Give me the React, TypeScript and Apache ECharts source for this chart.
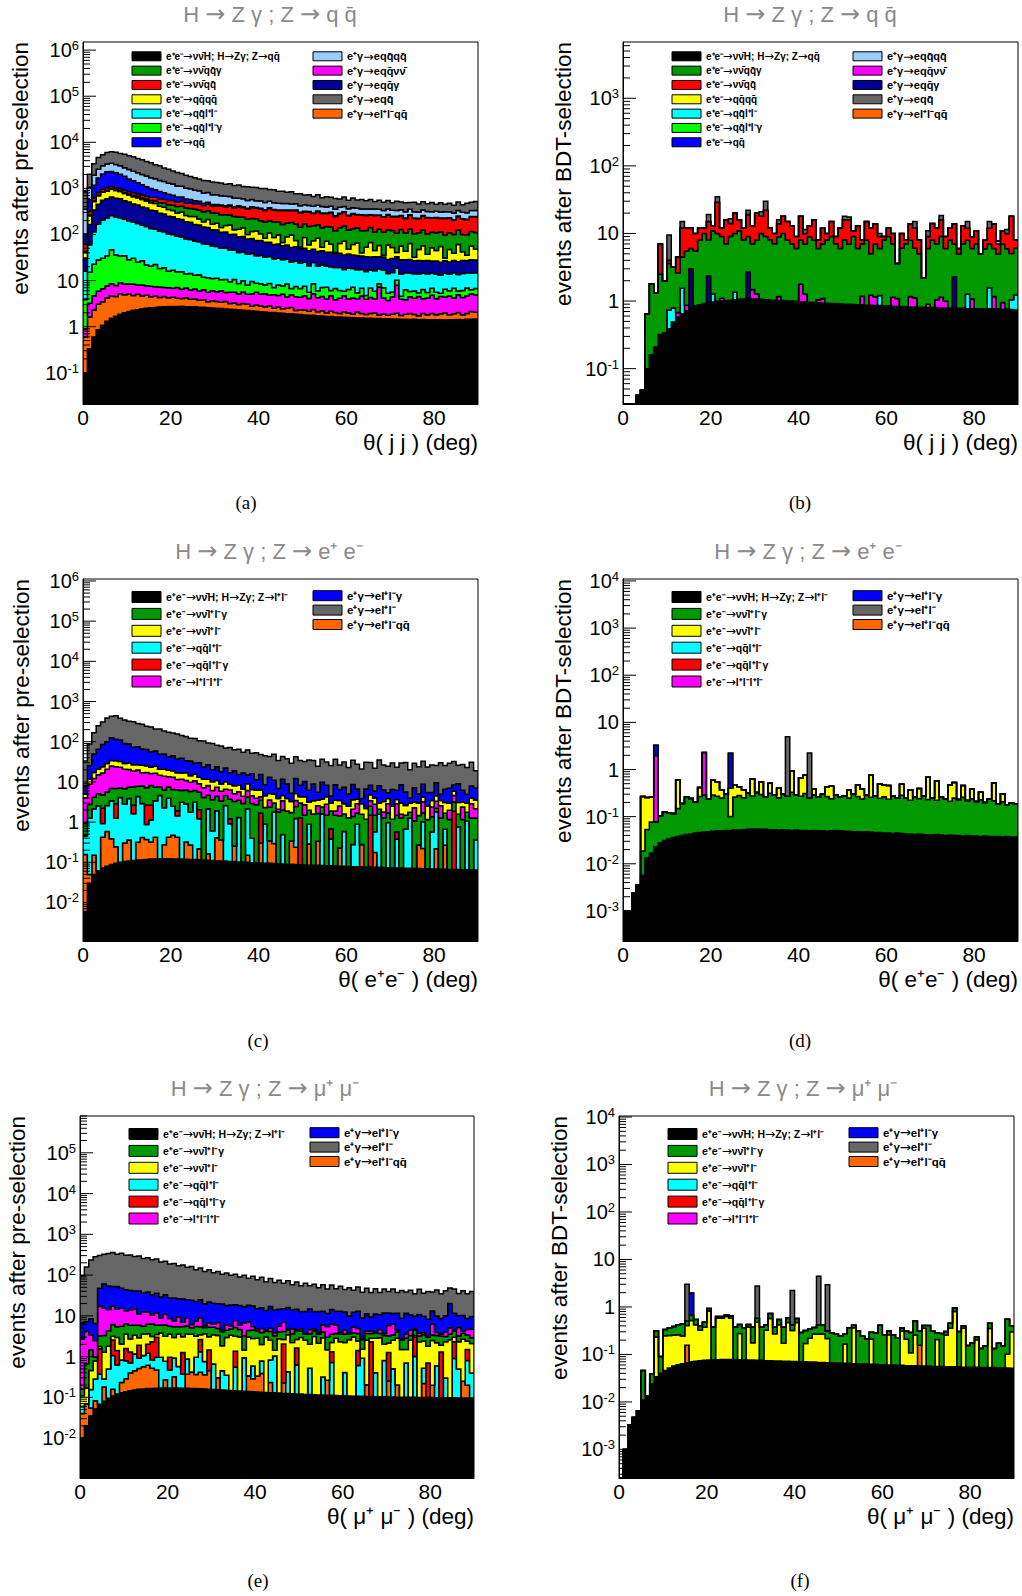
import React, { useEffect, useRef } from "react";
import * as echarts from "echarts";

const NBINS = 90;
const BIN_W = 1; // degrees per bin
const FONT = '"Liberation Sans", Arial, Helvetica, sans-serif';
const ARROW_FONT = '"DejaVu Sans", sans-serif';
const SERIF = '"Liberation Serif", "Times New Roman", serif';

const COLOR: Record<string, string> = {
  sig: "#000000", green: "#009900", red: "#ff0000", yellow: "#ffff00", cyan: "#00ffff",
  lgreen: "#00ff00", blue: "#0000ff", lblue: "#99ccff", magenta: "#ff00ff", navy: "#000099",
  gray: "#666666", orange: "#ff6600",
};

const NB = "\u03bd\u0304";
const QB = "q\u0304";
const LABELS_QQ: Record<string, string> = {
  sig: `e⁺e⁻→ν${NB}H; H→Zγ; Z→q${QB}`, green: `e⁺e⁻→ν${NB}q${QB}γ`, red: `e⁺e⁻→ν${NB}q${QB}`,
  yellow: `e⁺e⁻→q${QB}q${QB}`, cyan: `e⁺e⁻→q${QB}l⁺l⁻`, lgreen: `e⁺e⁻→q${QB}l⁺l⁻γ`, blue: `e⁺e⁻→q${QB}`,
  lblue: `e⁺γ→eq${QB}q${QB}`, magenta: `e⁺γ→eq${QB}ν${NB}`, navy: `e⁺γ→eq${QB}γ`, gray: `e⁺γ→eq${QB}`,
  orange: `e⁺γ→el⁺l⁻q${QB}`,
};
const LABELS_LL: Record<string, string> = {
  sig: `e⁺e⁻→ν${NB}H; H→Zγ; Z→l⁺l⁻`, green: `e⁺e⁻→ν${NB}l⁺l⁻γ`, yellow: `e⁺e⁻→ν${NB}l⁺l⁻`,
  cyan: `e⁺e⁻→q${QB}l⁺l⁻`, red: `e⁺e⁻→q${QB}l⁺l⁻γ`, magenta: `e⁺e⁻→l⁺l⁻l⁺l⁻`,
  blue: `e⁺γ→el⁺l⁻γ`, gray: `e⁺γ→el⁺l⁻`, orange: `e⁺γ→el⁺l⁻q${QB}`,
};
const LEG_QQ_1 = ["sig", "green", "red", "yellow", "cyan", "lgreen", "blue"];
const LEG_QQ_2 = ["lblue", "magenta", "navy", "gray", "orange"];
const LEG_LL_1 = ["sig", "green", "yellow", "cyan", "red", "magenta"];
const LEG_LL_2 = ["blue", "gray", "orange"];

const X_TICKS = [0, 20, 40, 60, 80];

function fromBins(entries: [number, number][]): number[] {
  const a = new Array(NBINS).fill(0);
  for (const [i, v] of entries) a[i] = v;
  return a;
}

// ---------------- Panel (a): H->Zγ, Z->qq, pre-selection ----------------
const A_sig = [0.1,0.33,0.6,0.86,1.08,1.31,1.52,1.69,1.87,2.0, 2.14,2.26,2.34,2.45,2.5,2.57,2.61,2.67,2.69,2.73, 2.75,2.74,2.77,2.72,2.71,2.69,2.64,2.63,2.57,2.55, 2.5,2.48,2.42,2.4,2.35,2.32,2.27,2.25,2.19,2.17, 2.12,2.09,2.04,2.02,1.97,1.95,1.91,1.9,1.85,1.84, 1.8,1.77,1.76,1.72,1.71,1.67,1.67,1.63,1.62,1.6, 1.59,1.57,1.57,1.54,1.53,1.52,1.5,1.5,1.48,1.48, 1.46,1.46,1.45,1.45,1.43,1.44,1.42,1.43,1.41,1.42, 1.41,1.41,1.4,1.42,1.41,1.43,1.42,1.44,1.44,1.46];
const A_orange = [0.5,1.3,1.7,2.2,2.4,2.9,3.1,2.8,3.3,2.9, 3.0,2.5,2.7,2.2,2.3,1.9,2.0,1.6,1.8,1.5, 1.6,1.4,1.3,1.5,1.2,1.3,1.1,1.2,0.9,1.1, 1.0,0.9,1.1,0.8,0.9,0.7,0.9,0.8,0.6,0.8, 0.7,0.6,0.8,0.5,0.7,0.5,0.6,0.7,0.4,0.5, 0.5,0.4,0.6,0.4,0.5,0.3,0.5,0.4,0.3,0.5, 0.4,0.3,0.5,0.4,0.3,0.4,0.5,0.3,0.4,0.3, 0.4,0.5,0.3,0.4,0.5,0.4,0.3,0.5,0.4,0.5, 0.4,0.5,0.6,0.4,0.5,0.6,0.4,0.5,0.7,0.6];
const A_magenta = [0.3,1.6,2.4,2.8,3.2,3.4,3.9,3.3,3.8,3.5, 3.3,3.6,3.0,3.4,2.9,3.1,2.7,3.0,2.6,2.8, 2.5,2.9,2.4,2.7,2.3,2.6,2.2,2.5,2.1,2.4, 2.2,2.6,2.0,2.4,2.3,2.1,2.5,2.0,2.3,2.6, 2.2,2.5,2.0,2.4,2.1,2.6,1.9,2.3,2.2,2.0, 2.4,1.9,2.8,2.1,2.3,2.0,2.5,1.8,2.2,2.6, 2.0,2.3,1.9,2.7,2.1,2.4,2.0,5.5,2.3,1.9, 2.6,6.0,2.2,2.0,2.5,2.3,2.8,2.1,2.4,2.9, 2.2,2.6,2.4,2.8,2.3,2.9,2.5,2.7,3.0,2.8];
const A_lgreen = [3,12,18,22,24,27,38,28,25,26, 20,22,17,19,14,13,15,11,12,9, 10,8.5,9,7,8,6.5,7.5,5.5,6,5, 5.5,4.5,5,3.8,5,3.5,4.2,3.0,4.5,3.2, 3.5,2.8,3.8,2.2,3.2,2.6,4.0,1.8,3.0,2.4, 2.8,1.5,3.4,1.8,2.6,3.2,1.4,2.9,2.0,1.2, 2.4,3.0,1.5,2.2,0.8,2.6,1.9,1.2,2.8,1.6, 1.2,2.2,0.6,2.5,1.4,1.8,0.9,2.4,1.3,2.0, 1.6,0.8,2.1,1.4,2.6,1.0,1.8,2.3,1.2,1.9];
const A_cyan = [12,45,92,138,176,193,212,204,197,180, 171,156,148,134,127,115,110,99,95,87, 83,76,73,66,64,58,56,51,50,45, 44,40,40,36,36,32,32,29,29,26, 26.5,24.5,24.5,22.5,22.5,20.5,20.5,18.5,19,17, 17.5,15.5,16,14.5,15,13.5,14,12.5,13,11.5, 12.2,11.2,11.6,10.6,11,10,10.4,9.5,9.9,9, 9.4,8.7,9.1,8.4,8.8,8.1,8.5,7.9,8.3,7.8, 8.1,7.7,8.0,7.7,8.0,7.7,8.2,7.9,8.3,8.1];
const A_navy = [15,105,225,285,345,365,395,375,365,325, 305,275,265,235,225,200,195,170,165,145, 143,127,123,109,107,93,92,82,80,70, 70,62,62,55,55,49,48,43,43,39, 39,35,35,31,32,29,30,27,28,25, 25.5,23.5,23.5,22,22.5,20.5,21,19.5,20,18.5, 19,17.5,18,16.5,17,15.5,16.5,15,15.5,14.5, 15,14,14.5,13.5,14,13,13.5,12.5,13.5,12, 13,12,12.5,11.5,12.5,12,13,12.5,13.5,13];
const A_yellow = [10,90,180,240,270,290,300,280,260,240, 215,200,190,175,160,150,140,125,110,100, 90,75,95,70,60,80,55,45,70,40, 50,30,45,60,25,40,50,20,35,45, 30,15,40,25,35,10,30,45,20,5, 35,15,25,40,8,30,20,2,25,35, 10,25,30,6,20,35,12,25,3,30, 22,8,28,15,35,5,20,30,10,25, 18,30,4,22,12,35,15,8,28,20];
const A_green = [2,8,12,15,18,20,22,25,28,32, 36,40,45,50,55,60,68,75,85,95, 100,110,105,115,120,110,125,120,115,125, 115,125,110,105,120,110,100,115,105,100, 95,105,90,100,92,98,88,85,95,90, 85,90,82,80,88,78,85,80,76,82, 78,72,75,80,70,74,68,72,76,66, 70,66,72,64,68,70,62,67,65,60, 64,58,66,62,60,65,58,63,60,62];
const A_red = [20,60,90,110,120,130,120,115,110,105, 100,100,95,95,100,100,105,100,110,105, 110,100,115,105,120,110,125,115,130,120, 125,140,130,150,135,160,145,140,165,150, 160,145,170,150,140,165,155,145,160,150, 140,155,130,150,145,135,150,125,140,150, 130,145,125,140,135,120,145,130,125,140, 120,135,125,115,130,120,110,130,125,115, 120,110,125,115,105,120,115,110,125,130];
const A_blue = [40,250,550,860,1080,1260,1240,1160,1040,910, 750,660,550,490,400,355,295,265,220,200, 165,150,120,108,88,77,60,54,43,38, 31,29,24,23,19,18.5,16,16.5,14.5,14.5, 12.5,13.5,11.5,12.5,10.5,11.5,9.5,10.5,9.5,9.2, 8.6,9.3,8.1,8.8,7.7,8.4,7.6,7.8,7.2,7.1, 6.7,7.3,6.6,6.8,6.2,6.7,5.8,6.3,5.7,6.2, 5.8,6.1,5.3,5.7,5.2,5.8,4.8,5.2,4.9,5.2, 4.8,5.1,4.9,5.2,4.8,5.1,4.9,5.2,5.0,5.1];
const A_lblue = [250,490,760,940,1060,1090,1160,1090,1060,990, 960,890,860,790,770,710,690,630,610,550, 530,480,470,420,410,365,360,320,320,280, 280,255,250,225,220,195,195,175,175,157, 158,147,148,137,138,129,131,122,125,117, 121,112,116,107,111,103,107,99,103,97, 100,94,97,92,95,90,93,88,91,86, 89,84,87,83,86,82,85,81,84,80, 84,79,83,80,84,80,85,82,87,86];
const A_gray = [500,960,1480,2050,2250,2650,2750,2800,2650,2700, 2550,2500,2250,2200,1950,1900,1650,1600,1350,1320, 1150,1090,980,920,820,790,720,690,640,650, 610,625,565,595,530,570,505,535,480,505, 470,505,415,445,385,400,350,385,305,345, 275,305,255,300,220,265,230,250,200,245, 190,240,190,215,180,215,160,200,165,190, 150,195,160,175,140,190,150,170,150,180, 135,180,145,165,140,175,135,180,165,190];

// ---------------- Panel (b): H->Zγ, Z->qq, BDT selection ----------------
const B_sig = [0,0,0,0.04,0.048,0.1,0.16,0.21,0.32,0.34, 0.39,0.49,0.58,0.65,0.72,0.8,0.85,0.88,0.92,0.95, 0.97,0.99,1.0,1.02,1.03,1.05,1.06,1.08,1.1,1.08, 1.07,1.06,1.05,1.04,1.03,1.02,1.02,1.01,1.0,0.99, 0.98,0.97,0.96,0.96,0.95,0.94,0.93,0.92,0.92,0.91, 0.9,0.9,0.89,0.88,0.88,0.87,0.87,0.86,0.86,0.85, 0.85,0.84,0.84,0.83,0.83,0.82,0.82,0.81,0.81,0.8, 0.8,0.8,0.79,0.79,0.79,0.78,0.78,0.78,0.77,0.77, 0.77,0.77,0.76,0.77,0.77,0.76,0.75,0.76,0.75,0.74];
const B_orange = fromBins([[69, 0.1]]);
const B_magenta = fromBins([[12,0.1],[14,0.15],[22,0.1],[29,0.4],[30,0.2],[35,0.15],[40,0.8],[41,0.3],[44,0.1],[45,0.15],[54,0.3],[56,0.35],[57,0.3],[61,0.3],[62,0.25],[65,0.35],[66,0.3],[71,0.25],[72,0.35],[73,0.2],[79,0.3],[84,0.4],[86,0.2]]);
const B_cyan = fromBins([[10,0.35],[11,0.3],[13,0.9],[20,0.3],[25,0.3],[58,0.35],[78,0.5],[83,0.8],[88,0.3],[89,0.5]]);
const B_navy = fromBins([[15,2.2],[19,1.4],[28,1.6],[75,1.5]]);
const B_green = [0,0,0,0,0,0.55,1.64,1.09,2.18,1.66, 2.86,2.41,1.92,2.95,4.63,3.0,4.65,7.1,9.1,5.65, 9.7,9.0,7.9,6.0,8.0,8.65,9.9,6.9,6.3,5.5, 6.7,8.9,7.95,7.0,6.0,7.8,9.0,7.0,6.0,5.0, 6.2,5.7,8.0,7.0,4.95,5.9,7.1,8.1,6.1,5.1, 7.1,6.1,8.1,5.1,5.8,7.1,3.8,5.8,4.8,7.15, 8.15,5.85,2.5,5.2,6.2,6.8,4.9,4.2,1.4,5.1, 7.2,5.95,7.85,5.0,7.2,4.7,4.2,6.2,6.7,4.9, 6.2,4.2,5.2,5.4,4.8,4.2,6.0,5.2,4.0,4.8];
const B_red = [0,0,0,0,0,0,0,0,4.5,0, 0.4,0,1.9,7.5,6.5,6,4.5,4,2,7, 2,19,3,9,5,10,5,4,10,6, 12,8,13,4,3,5,8,7,6,3, 10,3,4,8,2,5,2,6,2,6, 8,9,2,7,1,7,7,7,3,1, 3,3,0,4,1,6,6,3,0,3, 6,5,7,3,4,7,1,6,4,3, 4,0,2,5,8,2,4,4,13,2];
const B_lblue = fromBins([[85, 0.8]]);
const B_gray = fromBins([[10,5.5],[13,3],[19,4],[21,6],[24,2.5],[28,3],[31,3],[32,8],[35,2],[41,1.5],[50,2],[51,1.5],[58,1],[66,3],[69,2],[72,2.5],[78,3],[83,3],[87,1.5]]);

// ---------------- Panel (c): H->Zγ, Z->ee, pre-selection ----------------
const C_sig = [0.006,0.03,0.05,0.062,0.072,0.08,0.088,0.095,0.1,0.104, 0.108,0.111,0.114,0.116,0.118,0.12,0.121,0.122,0.122,0.122, 0.121,0.121,0.12,0.119,0.118,0.117,0.116,0.114,0.113,0.111, 0.11,0.108,0.107,0.105,0.104,0.102,0.101,0.1,0.098,0.097, 0.096,0.095,0.094,0.093,0.092,0.091,0.09,0.089,0.088,0.087, 0.086,0.085,0.085,0.084,0.083,0.082,0.082,0.081,0.08,0.08, 0.079,0.078,0.078,0.077,0.076,0.076,0.075,0.075,0.074,0.073, 0.073,0.072,0.072,0.071,0.071,0.07,0.07,0.069,0.069,0.068, 0.068,0.067,0.067,0.066,0.066,0.066,0.065,0.065,0.064,0.064];
const C_orange = [0.15,0.02,0.1,0,0.35,0.5,0.3,0.15,0,0.2, 0.25,0,0.2,0.3,0.25,0.2,0.3,0,0.15,0.3, 0.35,0.3,0,0.2,0.15,0,0.1,0,0.05,0, 0.3,0.25,0,0,0.15,0,0,0.05,0,0, 0.2,0,0.25,0.2,0,0,0,0.25,0.15,0, 0,0.2,0,0.25,0,0,0,0,0.15,0, 0,0,0,0.2,0,0,0.1,0,0,0, 0,0,0,0,0,0,0.2,0.15,0,0, 0.15,0,0.2,0,0,0,0,0,0,0];
const C_cyan = [0.3,1.2,2.0,2.5,0.5,2.0,3.0,1.0,4.0,2.5, 3.5,1.5,4.0,2.5,0.5,0.8,3.0,4.5,2.0,3.5, 2.0,1.0,3.0,2.5,1.5,3.0,1.0,0,2.0,0.5, 1.5,0,2.5,0.8,0,1.2,0,2.0,0.3,0, 0,0.8,0,1.5,0,0.4,0,0,1.0,0, 0,0.6,0,0,1.5,0,0.3,0,0,0.5, 0,0.2,0.8,0,0,0,0.4,1.5,0,0.9, 0,0.3,0,0.6,1.2,0,0,0.8,0,0.5, 1.6,0,0.4,0,0,0.7,0,1.0,0,0.3];
const C_red = fromBins([[4,1.3],[7,1.6],[11,1.0],[14,1.8],[15,1.5],[21,0.5],[26,0.8],[33,0.3],[40,1.4],[49,1.2],[56,0.3],[65,1.4],[71,0.2],[84,1.8]]);
const C_green = [0.5,1.5,2,2.5,2.5,3,3.5,4,3,4, 3.5,5,3.5,5,4.5,5.5,4,3,4,3.5, 4,4.5,3,3.5,4,3,3.5,4,2.5,3, 2.5,3,2,2.5,3,2.2,2.8,2,2.5,2.6, 1.8,1.4,2.0,1.2,1.7,1.5,1.8,1.4,1.2,1.7, 1.4,1.1,1.5,1.3,0.8,1.4,1.2,1.4,1.2,1.0, 1.2,1.1,0.8,1.3,1.1,1.0,0.9,0.5,1.2,0.7, 1.1,0.9,1.2,0.8,0.5,1.0,1.2,0.7,1.1,0.8, 0.4,1.2,1.0,1.1,1.3,0.8,1.1,0.7,1.2,0.9];
const C_magenta = [3,6,8,10,12,15,18,17,16,14, 13,11,12,9,10,8,9,7,7.5,6, 6.5,5,5.5,4.5,4,4.5,3.5,3,3.5,2.5, 3,2.5,2,2.6,1.8,2.2,1.5,2.0,1.6,1.2, 0.8,0,1.2,0,0.3,1.4,0,0,1.0,0, 1.2,0,0,0.9,0,1.3,0,0.4,1.1,0, 0,0.7,1.2,0,0,0.9,1.3,0,0.5,1.2, 0,1.4,0.3,0,0,1.2,0,1.5,0,1.0, 1.1,1.3,0,0.8,1.4,0,1.2,0,1.6,0.9];
const C_yellow = [1,3,5,6,7,8,9,10,9,8, 9,8,7,9,8,7,8,6,7,6, 6,5.5,5,6,4.5,5,4,4.5,3.5,4, 3.5,3,3.5,2.5,3,2.5,2.2,2.8,2.0,2.4, 2.0,2.2,1.6,2.0,1.8,1.2,2.0,1.5,1.7,1.3, 1.6,1.2,1.8,1.0,1.4,1.5,1.1,1.6,0.9,1.3, 1.2,1.5,0.8,1.3,1.0,1.4,1.2,0.9,1.5,1.0, 1.3,0.8,1.4,1.1,1.2,0.9,1.5,1.0,1.3,1.1, 1.2,0.9,1.4,1.0,1.3,1.5,0.8,1.2,1.1,1.4];
const C_blue = [3,14,32,44,62,72,92,82,78,62, 58,46,48,40,39,33,34,28,29,23, 26,20,22,17,19,14,17,12,15,10, 13,9,12,8,11,7,10,6,9.5,5, 9,4,8,6,3,7,5,2,7,4, 6,3,5.5,2,6,4,1.5,5,3,4.5, 2.5,5,3,1,4.5,3.5,2,5,3,1.5, 4,2.5,5.5,3,1,4,2,4.5,3,2, 5,1.5,3.5,4,2.5,6,3,2,4,3.5];
const C_gray = [25,62,118,185,225,290,305,330,275,255, 235,240,210,205,180,175,150,160,135,130, 120,118,105,102,88,90,75,80,66,70, 58,60,48,55,44,50,38,47,36,42, 33,36,30,38,27,31,29,24,30,26, 22,29,25,19,27,23,21,28,20,24, 18,26,21,17,24,22,16,27,20,19, 23,17,21,25,16,22,19,24,18,21, 16,25,19,22,24,17,21,18,23,12];

// ---------------- Panel (d): H->Zγ, Z->ee, BDT selection ----------------
const D_sig = [0.001,0.001,0.0024,0.0035,0.0057,0.0134,0.017,0.023,0.028,0.031, 0.034,0.036,0.038,0.04,0.042,0.043,0.045,0.046,0.047,0.048, 0.049,0.05,0.05,0.051,0.051,0.052,0.052,0.053,0.054,0.055, 0.055,0.054,0.054,0.053,0.053,0.052,0.053,0.052,0.051,0.052, 0.051,0.051,0.05,0.051,0.05,0.05,0.049,0.05,0.051,0.05, 0.049,0.049,0.048,0.048,0.047,0.048,0.047,0.046,0.046,0.045, 0.045,0.044,0.045,0.044,0.043,0.043,0.042,0.043,0.042,0.041, 0.041,0.042,0.041,0.04,0.041,0.04,0.04,0.039,0.04,0.039, 0.039,0.038,0.039,0.038,0.038,0.038,0.037,0.038,0.037,0.037];
const D_green = [0,0,0,0,0.013,0.04,0.06,0.055,0.075,0.095, 0.085,0.08,0.11,0.15,0.22,0.2,0.16,0.22,0.24,0.19, 0.24,0.22,0.2,0.25,0.05,0.21,0.23,0.2,0.26,0.22, 0.27,0.24,0.21,0.26,0.23,0.2,0.25,0.22,0.28,0.24, 0.22,0.26,0.2,0.24,0.21,0.25,0.22,0.19,0.24,0.21, 0.23,0.2,0.25,0.22,0.19,0.24,0.21,0.23,0.2,0.22, 0.19,0.23,0.2,0.24,0.21,0.18,0.22,0.2,0.23,0.19, 0.21,0.18,0.22,0.2,0.17,0.21,0.19,0.22,0.18,0.2, 0.17,0.19,0.16,0.2,0.18,0.15,0.17,0.14,0.16,0.15];
const D_yellow = fromBins([[4,0.25],[5,0.2],[6,0.18],[12,0.45],[17,0.15],[20,0.3],[21,0.28],[22,0.12],[24,0.3],[25,0.2],[26,0.15],[27,0.12],[29,0.35],[31,0.25],[33,0.2],[35,0.15],[38,0.6],[40,0.4],[41,0.45],[43,0.1],[46,0.15],[47,0.2],[51,0.12],[53,0.2],[54,0.15],[56,0.5],[58,0.25],[59,0.2],[60,0.22],[63,0.2],[65,0.15],[67,0.15],[69,0.45],[71,0.35],[74,0.25],[75,0.28],[77,0.2],[79,0.15],[81,0.1],[84,0.3],[86,0.1]]);
const D_magenta = fromBins([[7,1.9],[18,2.0]]);
const D_blue = fromBins([[7,1.3],[24,1.8]]);
const D_gray = fromBins([[37,4.7],[42,2.0]]);

// ---------------- Panel (e): H->Zγ, Z->μμ, pre-selection ----------------
const E_sig = [0.01,0.02,0.035,0.052,0.068,0.08,0.095,0.108,0.12,0.13, 0.138,0.145,0.152,0.157,0.161,0.164,0.166,0.168,0.169,0.17, 0.17,0.17,0.169,0.168,0.167,0.166,0.164,0.162,0.16,0.158, 0.156,0.154,0.152,0.15,0.148,0.146,0.144,0.142,0.14,0.138, 0.136,0.134,0.132,0.13,0.129,0.127,0.125,0.124,0.122,0.121, 0.12,0.118,0.117,0.116,0.115,0.114,0.113,0.112,0.111,0.11, 0.109,0.108,0.107,0.107,0.106,0.105,0.105,0.104,0.103,0.103, 0.102,0.102,0.101,0.101,0.1,0.1,0.1,0.099,0.099,0.099, 0.099,0.098,0.098,0.098,0.098,0.098,0.097,0.097,0.097,0.097];
const E_orange = [0.03,0.05,0.02,0.03,0,0.1,0,0.05,0,0.1, 0.15,0.25,0.3,0.35,0.4,0.45,0.35,0.3,0,0.1, 0,0.15,0,0,0.2,0.25,0.2,0.25,0.2,0.3, 0,0.15,0,0,0,0,0,0,0.2,0.15, 0.2,0.25,0,0.1,0,0,0.1,0,0,0, 0,0,0,0,0,0,0.15,0,0,0, 0,0,0,0,0,0.1,0,0,0,0, 0.15,0,0.1,0,0,0,0,0,0.12,0, 0.1,0,0,0,0,0,0,0.15,0.1,0];
const E_cyan = [0.02,0,0.1,0.2,0.3,0.1,0.4,0.9,0.5,0.6, 0.5,0.3,0.7,0.4,0.5,0.6,0.3,0.5,0.8,0.5, 0.3,0.6,0.4,0.2,0.5,0,0.6,0.9,0.4,0, 0.5,0,0.3,0.2,0,0.4,0,0.8,0,0.3, 0,0.4,0,0.6,0.9,0,0,0.3,0,0.5, 0,0,0.4,0,0,0.2,0,0.6,0,0, 0.3,0,0,0.5,0.8,0,0,0.3,0,0.7, 0,0.4,0,0,0.6,0,0.9,0,0.3,0, 0,0.5,0,0.2,0,0.8,0.4,0,0.6,0.3];
const E_red = [0,0,0,0,1.2,0,0,1.5,0.8,0, 0.8,0.6,0,1.0,0,0.8,1.5,2.0,0,0, 0.5,0,0,0.9,0,0,0,1.3,0,1.0, 0,0,0,0,0,0.8,0,0,0,0, 0,0,0,0,0,0,1.8,0,0,1.0, 0,0,0,0,0,0,0,0.6,0,0, 0,0,0,0.8,0,0,2.2,0,0,0, 1.0,0,0,0,0,0,2.0,0,0,0.6, 0,0,1.2,0,0,1.4,0,0,0.7,0];
const E_yellow = [0.05,0.1,0.3,0.5,0.2,1.0,1.3,0.6,1.5,1.2, 2.0,1.4,2.2,1.0,2.5,1.6,0.8,0.5,2.8,2.4, 2.6,2.0,3.0,1.8,2.7,3.1,2.2,0.8,2.9,1.6, 2.8,3.0,1.4,2.6,3.2,1.8,2.9,0.5,2.7,2.2, 2.5,1.2,2.9,1.7,0.4,2.6,0.6,3.0,2.1,1.0, 2.8,2.4,1.5,3.0,2.0,2.6,1.2,0.9,2.7,2.2, 1.8,2.5,2.9,1.0,0.6,2.3,0.5,2.4,2.8,1.2, 0.9,2.0,2.6,1.4,0.8,2.4,0.3,2.2,1.9,1.1, 2.3,1.6,0.6,2.0,2.5,0.7,1.8,2.4,0.9,1.7];
const E_green = [0.05,0.5,1.0,0.2,1.5,2.0,2.5,3.0,2.5,3.5, 2.8,3.2,2.5,3.0,2.0,2.6,3.2,2.4,2.2,2.8, 2.0,2.5,1.8,2.4,2.1,1.6,2.3,2.0,1.5,2.2, 1.8,1.6,2.2,1.5,1.4,2.0,1.6,1.8,1.3,1.7, 1.5,1.9,1.2,1.6,1.8,1.3,1.5,1.1,1.4,1.7, 1.3,1.0,1.6,1.2,1.4,1.1,1.5,1.3,0.9,1.2, 1.4,1.0,0.8,1.3,1.1,1.2,0.9,1.0,0.8,1.3, 1.1,0.9,1.2,1.0,1.3,0.8,1.1,0.9,1.0,1.2, 0.9,1.1,1.3,0.8,1.0,1.2,0.9,1.1,1.0,0.8];
const E_magenta = [2.5,3.5,2.0,1.5,14,12,10,11,9,10, 7,8,9,5,7,6,4,6,3,5, 3,2,4,1.5,3,1,2,3.5,0.5,1.5, 1,2,0.5,1.5,0.8,2.5,1.2,3.5,2.8,1.0, 0.5,1.0,0.3,0.8,0.6,1.5,2.8,0.4,1.2,0.2, 0.6,0.3,1.0,0.5,0.2,2.0,2.5,2.8,2.2,0.4, 0.8,0.3,1.5,1.2,0.2,0.5,0.6,0.3,0.9,0.4, 2.5,3.0,0.5,0.2,0.8,1.2,0.3,0.6,0.4,0.3, 2.8,0.6,0.4,0.9,1.5,0.3,2.0,0.5,1.2,1.8];
const E_blue = [4,3,5,4,30,45,40,35,38,32, 30,28,26,30,24,26,22,24,20,22, 19,20,17,19,16,18,15,16,14,15, 14,13,15,12,13,11,12,10,11,12, 10,11,9,12,10,9,8,11,9,10, 8,9,10,8,9,7,6,8,7,9, 8,6,7,8,6,7,5,7,6,8, 6,5,7,6,8,6,5,7,6,5, 7,6,5,6,15,7,5,6,4,5];
const E_gray = [90,150,225,275,255,265,285,305,270,295, 265,270,245,255,220,228,205,212,180,185, 160,165,142,150,130,138,112,125,103,114, 94,102,85,95,80,86,72,82,66,76, 62,72,55,66,52,60,48,57,44,53, 42,50,40,47,36,45,34,43,33,40, 32,39,30,38,29,36,28,35,27,34, 28,34,26,33,27,32,25,34,26,31, 25,33,26,31,28,34,25,31,26,30];

// ---------------- Panel (f): H->Zγ, Z->μμ, BDT selection ----------------
const F_sig = [0,0.001,0.0033,0.0047,0.0065,0.011,0.0134,0.024,0.034,0.04, 0.046,0.052,0.057,0.061,0.064,0.067,0.07,0.072,0.074,0.075, 0.076,0.077,0.077,0.078,0.078,0.078,0.077,0.077,0.077,0.076, 0.076,0.075,0.075,0.074,0.074,0.073,0.073,0.072,0.072,0.071, 0.071,0.07,0.07,0.069,0.069,0.068,0.068,0.067,0.067,0.066, 0.066,0.065,0.065,0.064,0.064,0.063,0.063,0.062,0.062,0.061, 0.061,0.06,0.06,0.059,0.059,0.058,0.058,0.058,0.057,0.057, 0.057,0.056,0.056,0.056,0.055,0.055,0.055,0.055,0.054,0.054, 0.054,0.054,0.053,0.053,0.053,0.053,0.052,0.052,0.052,0.051];
const F_orange = fromBins([[15,0.09],[68,0.1]]);
const F_yellow = [0,0,0,0,0,0,0,0,0.2,0, 0.2,0.2,0.2,0.2,0.18,0.25,0.45,0.35,0.25,0.3, 0.75,0,0.5,0.5,0.55,0.5,0,0.2,0,0.3, 0.1,0.4,0,0.25,0.5,0.2,0.35,0.1,0.4,0.25, 0.4,0,0.1,0.15,0.2,0.2,0.2,0.15,0,0, 0,0.1,0,0.3,0,0,0,0.15,0,0, 0,0.2,0,0,0.25,0.15,0.05,0.2,0,0.3, 0,0,0.15,0,0.2,0.3,0.75,0,0.3,0, 0,0.15,0,0,0.3,0,0,0,0.05,0.25];
const F_green = [0,0,0,0,0,0.035,0,0.015,0.08,0.05, 0.09,0.11,0.13,0.16,0.2,0.1,0.15,0.12,0.08,0.1, 0.1,0.3,0.05,0.05,0.05,0.07,0.3,0.15,0.28,0.05, 0.2,0.1,0.3,0.1,0.15,0.1,0.12,0.2,0.12,0.1, 0.1,0.22,0.15,0.12,0.1,0.15,0.15,0.1,0.22,0.2, 0.18,0.1,0.3,0.05,0.25,0.18,0.15,0.08,0.22,0.35, 0.2,0.05,0.2,0.16,0.05,0.1,0.18,0.25,0.15,0.05, 0.35,0.25,0.08,0.22,0.05,0.1,0.15,0.25,0.05,0.1, 0.12,0.03,0.08,0.1,0.1,0.08,0.12,0.1,0.45,0.1];
const F_blue = fromBins([[16, 1.3]]);
const F_gray = fromBins([[15,2.5],[31,2.2],[39,1.8],[45,4.0],[47,2.6]]);

type Layer = { key: string; values: number[] };
type Panel = {
  left: number; top: number; width: number; height: number; ymin: number; ymax: number;
  title: string; ytitle: string; xtitle: string; caption: string; capX: number; capY: number;
  titleX: number; ytitleX: number; kind: "qq" | "ll"; layers: Layer[];
};

const TITLE_QQ = `H → Z γ ; Z → q ${QB}`;
const TITLE_EE = "H → Z γ ; Z → e⁺ e⁻";
const TITLE_MM = "H → Z γ ; Z → μ⁺ μ⁻";

const PANELS: Panel[] = [
  { left: 83, top: 42, width: 395, height: 362, ymin: 0.021, ymax: 1.5e6, title: TITLE_QQ, ytitle: "events after pre-selection", xtitle: "θ( j j ) (deg)", caption: "(a)", capX: 246, capY: 502, titleX: 270, ytitleX: 20, kind: "qq",
    layers: [{ key: "sig", values: A_sig }, { key: "orange", values: A_orange }, { key: "magenta", values: A_magenta }, { key: "lgreen", values: A_lgreen }, { key: "cyan", values: A_cyan }, { key: "navy", values: A_navy }, { key: "yellow", values: A_yellow }, { key: "green", values: A_green }, { key: "red", values: A_red }, { key: "blue", values: A_blue }, { key: "lblue", values: A_lblue }, { key: "gray", values: A_gray }] },
  { left: 623, top: 42, width: 395, height: 362, ymin: 0.03, ymax: 6.8e3, title: TITLE_QQ, ytitle: "events after BDT-selection", xtitle: "θ( j j ) (deg)", caption: "(b)", capX: 800, capY: 502, titleX: 810, ytitleX: 563, kind: "qq",
    layers: [{ key: "sig", values: B_sig }, { key: "orange", values: B_orange }, { key: "magenta", values: B_magenta }, { key: "cyan", values: B_cyan }, { key: "navy", values: B_navy }, { key: "green", values: B_green }, { key: "red", values: B_red }, { key: "lblue", values: B_lblue }, { key: "gray", values: B_gray }] },
  { left: 83, top: 579, width: 395, height: 362, ymin: 1.1e-3, ymax: 1.12e6, title: TITLE_EE, ytitle: "events after pre-selection", xtitle: "θ( e⁺e⁻ ) (deg)", caption: "(c)", capX: 258, capY: 1040, titleX: 269, ytitleX: 21, kind: "ll",
    layers: [{ key: "sig", values: C_sig }, { key: "orange", values: C_orange }, { key: "cyan", values: C_cyan }, { key: "red", values: C_red }, { key: "green", values: C_green }, { key: "magenta", values: C_magenta }, { key: "yellow", values: C_yellow }, { key: "blue", values: C_blue }, { key: "gray", values: C_gray }] },
  { left: 623, top: 579, width: 395, height: 362, ymin: 2.3e-4, ymax: 1.1e4, title: TITLE_EE, ytitle: "events after BDT-selection", xtitle: "θ( e⁺e⁻ ) (deg)", caption: "(d)", capX: 800, capY: 1040, titleX: 808, ytitleX: 563, kind: "ll",
    layers: [{ key: "sig", values: D_sig }, { key: "green", values: D_green }, { key: "yellow", values: D_yellow }, { key: "magenta", values: D_magenta }, { key: "blue", values: D_blue }, { key: "gray", values: D_gray }] },
  { left: 80, top: 1116, width: 394, height: 362, ymin: 1.05e-3, ymax: 8e5, title: TITLE_MM, ytitle: "events after pre-selection", xtitle: "θ( μ⁺ μ⁻ ) (deg)", caption: "(e)", capX: 258, capY: 1580, titleX: 265, ytitleX: 17, kind: "ll",
    layers: [{ key: "sig", values: E_sig }, { key: "orange", values: E_orange }, { key: "cyan", values: E_cyan }, { key: "red", values: E_red }, { key: "yellow", values: E_yellow }, { key: "green", values: E_green }, { key: "magenta", values: E_magenta }, { key: "blue", values: E_blue }, { key: "gray", values: E_gray }] },
  { left: 619, top: 1116, width: 395, height: 362, ymin: 2.5e-4, ymax: 1.05e4, title: TITLE_MM, ytitle: "events after BDT-selection", xtitle: "θ( μ⁺ μ⁻ ) (deg)", caption: "(f)", capX: 800, capY: 1580, titleX: 803, ytitleX: 559, kind: "ll",
    layers: [{ key: "sig", values: F_sig }, { key: "orange", values: F_orange }, { key: "yellow", values: F_yellow }, { key: "green", values: F_green }, { key: "blue", values: F_blue }, { key: "gray", values: F_gray }] },
];

function logLabel(v: number): string {
  const e = Math.round(Math.log10(v));
  if (e === 0) return "{b|1}";
  if (e === 1) return "{b|10}";
  return `{b|10}{e|${e}}`;
}

// Split a label so that arrows use a wider arrow glyph (rich text tokens)
function richArrows(s: string): string {
  return s.split("→").map((seg) => (seg ? `{t|${seg}}` : "")).join("{r|→}");
}

function stackSeries(pi: number, p: Panel) {
  const tops: number[][] = [];
  const bots: number[][] = [];
  let cum: number[] = new Array(NBINS).fill(0);
  p.layers.forEach((l) => {
    bots.push(cum.slice());
    cum = cum.map((c, i) => c + (l.values[i] || 0));
    tops.push(cum.slice());
  });
  return {
    type: "custom", xAxisIndex: pi, yAxisIndex: pi, coordinateSystem: "cartesian2d", silent: true, clip: true, z: 2,
    data: p.layers.map((_, i) => [45, 1, i]),
    renderItem: (params: any, api: any) => {
      const li = params.dataIndex;
      const t = tops[li];
      const b = bots[li];
      const pts: number[][] = [];
      for (let i = 0; i < NBINS; i++) {
        const y = Math.max(t[i], p.ymin);
        pts.push(api.coord([i * BIN_W, y]));
        pts.push(api.coord([(i + 1) * BIN_W, y]));
      }
      for (let i = NBINS - 1; i >= 0; i--) {
        const y = Math.max(b[i], p.ymin);
        pts.push(api.coord([(i + 1) * BIN_W, y]));
        pts.push(api.coord([i * BIN_W, y]));
      }
      return { type: "polygon", shape: { points: pts }, style: { fill: COLOR[p.layers[li].key], stroke: "#000", lineWidth: 1.5, lineJoin: "miter" } };
    },
  };
}

function tickSeries(pi: number, p: Panel) {
  const ticks: number[][] = [];
  const k0 = Math.floor(Math.log10(p.ymin));
  const k1 = Math.ceil(Math.log10(p.ymax));
  for (let k = k0; k <= k1; k++) {
    for (let m = 1; m <= 9; m++) {
      const v = m * Math.pow(10, k);
      if (v >= p.ymin && v <= p.ymax) ticks.push([0, v, m === 1 ? 1 : 0]);
    }
  }
  return {
    type: "custom", xAxisIndex: pi, yAxisIndex: pi, coordinateSystem: "cartesian2d", silent: true, z: 6,
    data: ticks,
    renderItem: (params: any, api: any) => {
      const pt = api.coord([0, api.value(1)]);
      const len = api.value(2) ? 13 : 7;
      return { type: "line", shape: { x1: pt[0], y1: pt[1], x2: pt[0] + len, y2: pt[1] }, style: { stroke: "#000", lineWidth: 1 } };
    },
  };
}

function buildGraphics() {
  const els: any[] = [];
  PANELS.forEach((p) => {
    els.push({ type: "text", z: 100, x: p.titleX, y: p.top - 28, style: { text: richArrows(p.title), align: "center", verticalAlign: "middle",
      rich: { t: { fill: "#8a8a8a", fontSize: 22, fontFamily: FONT }, r: { fill: "#8a8a8a", fontSize: 24, fontFamily: ARROW_FONT } } } });
    els.push({ type: "text", z: 100, x: p.ytitleX, y: p.top, rotation: Math.PI / 2, style: { text: p.ytitle, fill: "#000", fontSize: 22.5, fontFamily: FONT, align: "right", verticalAlign: "middle" } });
    els.push({ type: "text", z: 100, x: p.left + p.width, y: p.top + p.height + 38, style: { text: p.xtitle, fill: "#000", fontSize: 22.5, fontFamily: FONT, align: "right", verticalAlign: "middle" } });
    els.push({ type: "text", z: 100, x: p.capX, y: p.capY, style: { text: p.caption, fill: "#000", fontSize: 19, fontFamily: SERIF, align: "center", verticalAlign: "middle" } });
    const qq = p.kind === "qq";
    const labels = qq ? LABELS_QQ : LABELS_LL;
    const col1 = qq ? LEG_QQ_1 : LEG_LL_1;
    const col2 = qq ? LEG_QQ_2 : LEG_LL_2;
    const r1Start = qq ? 14.3 : 18; const r1Step = qq ? 14.33 : 16.9; const h1 = qq ? 9 : 11; const f1 = qq ? 10 : 10.5;
    const r2Start = qq ? 14.3 : 16.7; const r2Step = qq ? 14.33 : 14.4; const h2 = qq ? 9 : 10; const f2 = qq ? 11 : 11.5;
    const legText = (text: string, x: number, y: number, fs: number) => ({
      type: "text", z: 100, x, y,
      style: { text: richArrows(text), align: "left", verticalAlign: "middle",
        rich: { t: { fill: "#000", fontSize: fs, fontWeight: "bold", fontFamily: FONT }, r: { fill: "#000", fontSize: fs * 1.15, fontFamily: ARROW_FONT } } },
    });
    col1.forEach((k, i) => {
      const cy = p.top + r1Start + i * r1Step;
      els.push({ type: "rect", z: 100, shape: { x: p.left + 49, y: cy - h1 / 2, width: 29, height: h1 }, style: { fill: COLOR[k], stroke: "#000", lineWidth: 1 } });
      els.push(legText(labels[k], p.left + 83, cy, f1));
    });
    col2.forEach((k, i) => {
      const cy = p.top + r2Start + i * r2Step;
      els.push({ type: "rect", z: 100, shape: { x: p.left + 230, y: cy - h2 / 2, width: 29, height: h2 }, style: { fill: COLOR[k], stroke: "#000", lineWidth: 1 } });
      els.push(legText(labels[k], p.left + 264, cy, f2));
    });
  });
  return els;
}

export default function App() {
  const ref = useRef<HTMLDivElement | null>(null);
  useEffect(() => {
    document.body.style.margin = "0";
    if (!ref.current) return;
    const chart = echarts.init(ref.current, undefined, { renderer: "svg" });
    const series: any[] = [];
    PANELS.forEach((p, i) => {
      series.push(stackSeries(i, p));
      series.push(tickSeries(i, p));
    });
    const option: any = {
      animation: false,
      backgroundColor: "#ffffff",
      grid: PANELS.map((p) => ({ left: p.left, top: p.top, width: p.width, height: p.height, show: true, borderColor: "#000", borderWidth: 1, backgroundColor: "transparent", containLabel: false, outerBoundsMode: "none" })),
      xAxis: PANELS.map((p, i) => ({
        type: "value", gridIndex: i, min: 0, max: NBINS * BIN_W, interval: 20,
        axisLine: { show: true, onZero: false, lineStyle: { color: "#000", width: 1 } },
        axisTick: { show: false }, splitLine: { show: false },
        axisLabel: { color: "#000", fontSize: 21, fontFamily: FONT, margin: 3, showMaxLabel: false, formatter: (v: number) => (X_TICKS.includes(Math.round(v)) ? String(Math.round(v)) : "") },
      })),
      yAxis: PANELS.map((p, i) => ({
        type: "log", logBase: 10, gridIndex: i, min: p.ymin, max: p.ymax,
        axisLine: { show: true, onZero: false, lineStyle: { color: "#000", width: 1 } },
        axisTick: { show: false }, splitLine: { show: false }, minorTick: { show: false }, minorSplitLine: { show: false },
        axisLabel: {
          showMinLabel: false, showMaxLabel: false, margin: 4, formatter: logLabel,
          rich: {
            b: { fontSize: 20, fontFamily: FONT, color: "#000", lineHeight: 22 },
            e: { fontSize: 13, fontFamily: FONT, color: "#000", verticalAlign: "top", lineHeight: 13 },
          },
        },
      })),
      series,
      graphic: { elements: buildGraphics() },
    };
    chart.setOption(option);
    return () => chart.dispose();
  }, []);
  return <div ref={ref} style={{ width: 1022, height: 1596 }} />;
}
